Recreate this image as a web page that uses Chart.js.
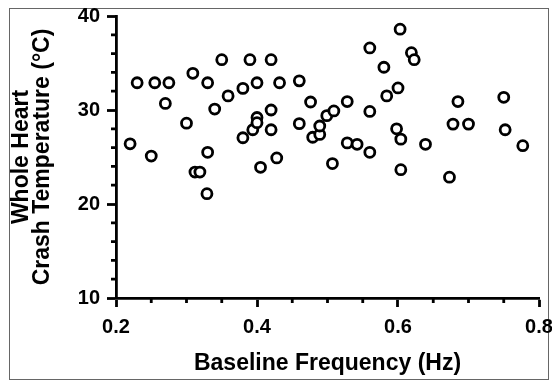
<!DOCTYPE html>
<html>
<head>
<meta charset="utf-8">
<script src="https://cdn.jsdelivr.net/npm/chart.js@4.4.0/dist/chart.umd.min.js"></script>
<style>
  html, body { margin: 0; padding: 0; background: #fff; }
  #wrap { width: 552px; height: 381px; position: relative; }
</style>
</head>
<body>
<div id="wrap"><canvas id="chart" width="552" height="381"></canvas></div>
<script>
// baseline frequency (Hz) and crash temperature (°C), one entry per heart
const frequency = [
  0.220, 0.230, 0.250, 0.255, 0.270, 0.275, 0.300, 0.309, 0.312, 0.319,
  0.329, 0.330, 0.330, 0.340, 0.350, 0.359, 0.380, 0.380, 0.390, 0.394,
  0.400, 0.400, 0.400, 0.405, 0.420, 0.420, 0.420, 0.428, 0.432, 0.460,
  0.460, 0.476, 0.479, 0.489, 0.489, 0.499, 0.509, 0.507, 0.528, 0.528,
  0.542, 0.560, 0.560, 0.560, 0.580, 0.584, 0.598, 0.600, 0.603, 0.604,
  0.604, 0.619, 0.623, 0.639, 0.673, 0.678, 0.685, 0.700, 0.750, 0.752,
  0.777
];
const crashTemp = [
  26.4, 32.9, 25.1, 32.9, 30.7, 32.9, 28.6, 33.9, 23.4, 23.4,
  21.1, 25.5, 32.9, 30.1, 35.35, 31.5, 32.3, 27.05, 35.35, 27.9,
  32.9, 29.2, 28.65, 23.9, 35.35, 30.0, 27.9, 24.9, 32.9, 33.1,
  28.55, 30.85, 27.1, 27.4, 28.3, 29.4, 29.9, 24.3, 30.9, 26.5,
  26.35, 36.6, 29.85, 25.5, 34.55, 31.5, 28.0, 32.35, 38.6, 26.9,
  23.65, 36.1, 35.35, 26.35, 22.85, 28.5, 30.9, 28.5, 31.35, 27.9,
  26.2
];
const xTicks = [0.2, 0.4, 0.6, 0.8];
const xMinorTicks = [0.25, 0.3, 0.35, 0.45, 0.5, 0.55, 0.65, 0.7, 0.75];
const yTicks = [10, 20, 30, 40];
const yMinorTicks = [12, 14, 16, 18, 22, 24, 26, 28, 32, 34, 36, 38];

const points = frequency.map((f, i) => ({ x: f, y: crashTemp[i] }));
const FONT = "'Liberation Sans', Arial, Helvetica, sans-serif";

// frame around the figure and the short minor ticks
const extras = {
  id: "extras",
  beforeDraw(chart) {
    const ctx = chart.ctx;
    ctx.save();
    ctx.strokeStyle = "#666";
    ctx.lineWidth = 1;
    ctx.strokeRect(9.5, 8.5, 539, 371);
    ctx.restore();
  },
  afterDraw(chart) {
    const { ctx, scales } = chart;
    const xs = scales.x, ys = scales.y;
    ctx.save();
    ctx.strokeStyle = "#000";
    ctx.lineWidth = 2.8;
    ctx.beginPath();
    xMinorTicks.forEach((v) => {
      const px = xs.getPixelForValue(v);
      ctx.moveTo(px, xs.top);
      ctx.lineTo(px, xs.top + 5);
    });
    yMinorTicks.forEach((v) => {
      const py = ys.getPixelForValue(v);
      ctx.moveTo(ys.right, py);
      ctx.lineTo(ys.right - 5, py);
    });
    ctx.stroke();
    ctx.restore();
  },
};

new Chart(document.getElementById("chart"), {
  type: "scatter",
  data: {
    datasets: [
      {
        data: points,
        pointStyle: "circle",
        pointRadius: 5,
        pointBorderWidth: 2.8,
        pointBackgroundColor: "#fff",
        pointBorderColor: "#000",
        pointHoverRadius: 5,
      },
    ],
  },
  options: {
    responsive: false,
    animation: false,
    events: [],
    layout: { padding: { left: 10, right: 13, top: 16, bottom: 4 } },
    plugins: { legend: { display: false }, tooltip: { enabled: false } },
    scales: {
      x: {
        type: "linear",
        min: 0.2,
        max: 0.8,
        afterBuildTicks: (s) => { s.ticks = xTicks.map((v) => ({ value: v })); },
        afterFit: (s) => {
          s.height = 79;
          s.paddingLeft = 0;
          s.paddingRight = 0;
        },
        ticks: {
          color: "#000",
          font: { family: FONT, size: 20, weight: "bold" },
          padding: 8,
          maxRotation: 0,
          callback: (v) => Number(v).toFixed(1),
        },
        grid: { drawOnChartArea: false, tickLength: 9, tickWidth: 2.8, tickColor: "#000" },
        border: { color: "#000", width: 2.8 },
        title: {
          display: true,
          text: "Baseline Frequency (Hz)",
          color: "#000",
          font: { family: FONT, size: 23, weight: "bold", lineHeight: 1.0 },
          padding: { top: 0, bottom: 2 },
        },
      },
      y: {
        type: "linear",
        min: 10,
        max: 40,
        afterBuildTicks: (s) => { s.ticks = yTicks.map((v) => ({ value: v })); },
        afterFit: (s) => {
          s.width = 106;
          s.paddingTop = 0;
          s.paddingBottom = 0;
        },
        ticks: {
          color: "#000",
          font: { family: FONT, size: 20, weight: "bold" },
          padding: 7,
        },
        grid: { drawOnChartArea: false, tickLength: 9, tickWidth: 2.8, tickColor: "#000" },
        border: { color: "#000", width: 2.8 },
        title: {
          display: true,
          text: ["Whole Heart", "Crash Temperature (°C)"],
          color: "#000",
          font: { family: FONT, size: 23, weight: "bold", lineHeight: 0.88 },
          padding: { top: 2, bottom: 0 },
        },
      },
    },
  },
  plugins: [extras],
});
</script>
</body>
</html>
